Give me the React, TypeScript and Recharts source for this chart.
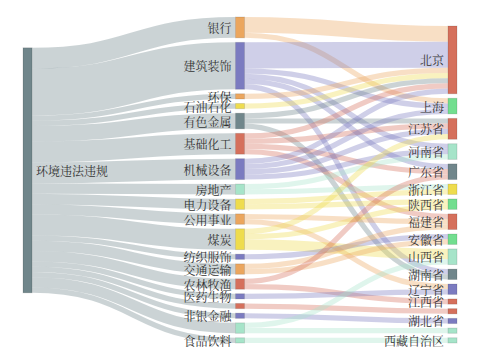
import React from 'react';
import { Sankey } from 'recharts';

const rootName = '环境违法违规';

const industries = [
  '银行', '建筑装饰', '环保', '石油石化', '有色金属', '基础化工', '机械设备', '房地产',
  '电力设备', '公用事业', '煤炭', '纺织服饰', '交通运输', '农林牧渔', '医药生物', '',
  '非银金融', '', '食品饮料',
];

const provinces = [
  '北京', '上海', '江苏省', '河南省', '广东省', '浙江省', '陕西省', '福建省', '安徽省',
  '山西省', '湖南省', '辽宁省', '江西省', '', '湖北省', '', '西藏自治区',
];

// [industry index, province index, count]
const flows: [number, number, number][] = [
  [0, 0, 3], [0, 1, 1],
  [1, 0, 5], [1, 1, 1], [1, 3, 1], [1, 4, 1], [1, 10, 1],
  [2, 0, 1],
  [3, 0, 1],
  [4, 0, 1], [4, 2, 1], [4, 10, 1],
  [5, 0, 1], [5, 2, 1], [5, 4, 1], [5, 7, 1],
  [6, 0, 1], [6, 1, 1], [6, 2, 1], [6, 3, 1],
  [7, 3, 1], [7, 5, 1],
  [8, 5, 1], [8, 6, 1],
  [9, 7, 1], [9, 11, 1],
  [10, 2, 1], [10, 6, 1], [10, 9, 2],
  [11, 8, 1],
  [12, 7, 1], [12, 8, 1],
  [13, 4, 1], [13, 12, 1],
  [14, 11, 1],
  [15, 13, 1],
  [16, 14, 1],
  [17, 9, 1], [17, 15, 1],
  [18, 16, 1],
];

// styles (kept apart from data)
const GRAY = '#70868b';
const ORANGE = '#eba65e';
const PURPLE = '#7b7bc0';
const YELLOW = '#eedc4e';
const RED = '#d5705c';
const MINT = '#a6e4c9';
const GREEN = '#72de8f';

const rootColor = GRAY;
const industryColors = [
  ORANGE, PURPLE, ORANGE, YELLOW, GRAY, RED, PURPLE, MINT, YELLOW, ORANGE, YELLOW,
  PURPLE, ORANGE, RED, PURPLE, RED, PURPLE, MINT, MINT,
];
const provinceColors = [
  RED, GREEN, RED, MINT, GRAY, YELLOW, GREEN, RED, GREEN, MINT, GRAY, PURPLE, RED,
  RED, PURPLE, MINT, MINT,
];
const nodeColors = [rootColor, ...industryColors, ...provinceColors];

const nodeNames = [rootName, ...industries, ...provinces];
const nodes = nodeNames.map((name, idx) => ({ name, idx }));

const industryTotals = industries.map((_, i) =>
  flows.filter((f) => f[0] === i).reduce((s, f) => s + f[2], 0)
);

const links = [
  ...industries.map((_, i) => ({ source: 0, target: 1 + i, value: industryTotals[i] })),
  ...flows.map(([from, to, v]) => ({
    source: 1 + from,
    target: 1 + industries.length + to,
    value: v,
  })),
];

const data = { nodes, links };

const FONT = '"Noto Serif CJK SC", "Noto Serif SC", "Source Han Serif SC", "AR PL UMing CN", SimSun, serif';

const SankeyNode = (props: any) => {
  const { x, y, width, height, payload } = props;
  const color = nodeColors[payload.idx];
  const isRoot = payload.depth === 0;
  return (
    <g>
      <rect
        x={x}
        y={y}
        width={width}
        height={height}
        fill={color}
        stroke="rgba(0,0,0,0.12)"
        strokeWidth={1}
      />
      {payload.name ? (
        <text
          x={isRoot ? x + width + 4 : x - 4}
          y={y + height / 2}
          textAnchor={isRoot ? 'start' : 'end'}
          dominantBaseline="central"
          fontSize={12}
          fontFamily={FONT}
          fill="#333"
        >
          {payload.name}
        </text>
      ) : null}
    </g>
  );
};

const SankeyLink = (props: any) => {
  const {
    sourceX,
    targetX,
    sourceY,
    targetY,
    sourceControlX,
    targetControlX,
    linkWidth,
    payload,
  } = props;
  const color = nodeColors[payload.source.idx];
  return (
    <path
      d={`M${sourceX},${sourceY}C${sourceControlX},${sourceY} ${targetControlX},${targetY} ${targetX},${targetY}`}
      fill="none"
      stroke={color}
      strokeOpacity={0.36}
      strokeWidth={Math.max(1, linkWidth)}
    />
  );
};

export default function App() {
  return (
    <div style={{ position: 'absolute', left: 0, top: 0, width: 480, height: 360 }}>
      <Sankey
        width={480}
        height={360}
        data={data}
        nodeWidth={9}
        nodePadding={4.5}
        sort={false}
        margin={{ top: 17, bottom: 17, left: 23, right: 23 }}
        node={(p: any) => <SankeyNode {...p} />}
        link={(p: any) => <SankeyLink {...p} />}
      />
    </div>
  );
}
